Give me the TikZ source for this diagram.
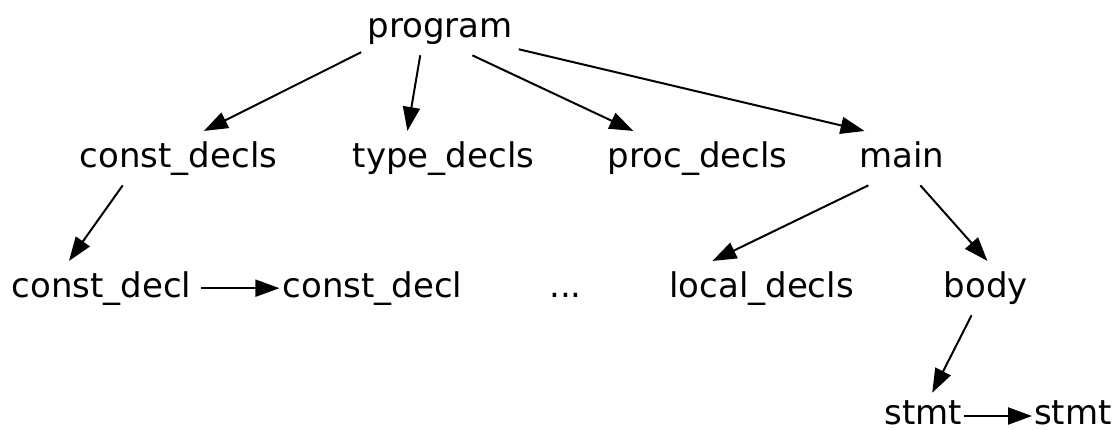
\documentclass[tikz,border=0pt]{standalone}
\usepackage{fontspec}
\setmainfont{DejaVu Sans}
\usetikzlibrary{arrows.meta}
\begin{document}
\begin{tikzpicture}[x=1pt,y=-1pt,
  lbl/.style={font=\fontsize{34}{40}\selectfont, text height=25.84pt, text depth=8.16pt,
    inner xsep=6pt, inner ysep=10pt, anchor=base},
  lastrow/.style={lbl, text height=31pt, text depth=0pt, inner ysep=0pt},
  arr/.style={line width=2pt, -{Triangle[length=24pt,width=17pt]}}]
\useasboundingbox (0,0) rectangle (1117,429);
\node[lbl] (program) at (440,37) {program};
\node[lbl] (constdecls) at (178.5,167) {const\_decls};
\node[lbl] (typedecls) at (443.5,167) {type\_decls};
\node[lbl] (procdecls) at (697.5,167) {proc\_decls};
\node[lbl] (main) at (902,167) {main};
\node[lbl] (cdA) at (101.4,297) {const\_decl};
\node[lbl] (cdB) at (372.5,297) {const\_decl};
\node[lbl] (dots) at (565.5,297) {...};
\node[lbl] (localdecls) at (761.5,297) {local\_decls};
\node[lbl] (body) at (986,297) {body};
\node[lastrow] (stmtA) at (923.5,424) {stmt};
\node[lastrow] (stmtB) at (1073,424) {stmt};
\draw[arr] (program.197.5) -- (constdecls.47.2);
\draw[arr] (program.234.7) -- (typedecls.143.8);
\draw[arr] (program.320.2) -- (procdecls.157.9);
\draw[arr] (program.345.6) -- (main.144.1);
\draw[arr] (constdecls.206) -- (cdA.140.3);
\draw[arr] (main.219.2) -- (localdecls.151.6);
\draw[arr] (main.304.5) -- (body.87.8);
\draw[arr] (body.242.3) -- (stmtA.61.3);
\draw[arr, shorten <=4pt, shorten >=-3pt] (cdA.east) -- (cdB.west);
\draw[arr, shorten <=-4pt, shorten >=-4pt] ([yshift=8pt]stmtA.base east) -- ([yshift=8pt]stmtB.base west);
\end{tikzpicture}
\end{document}
